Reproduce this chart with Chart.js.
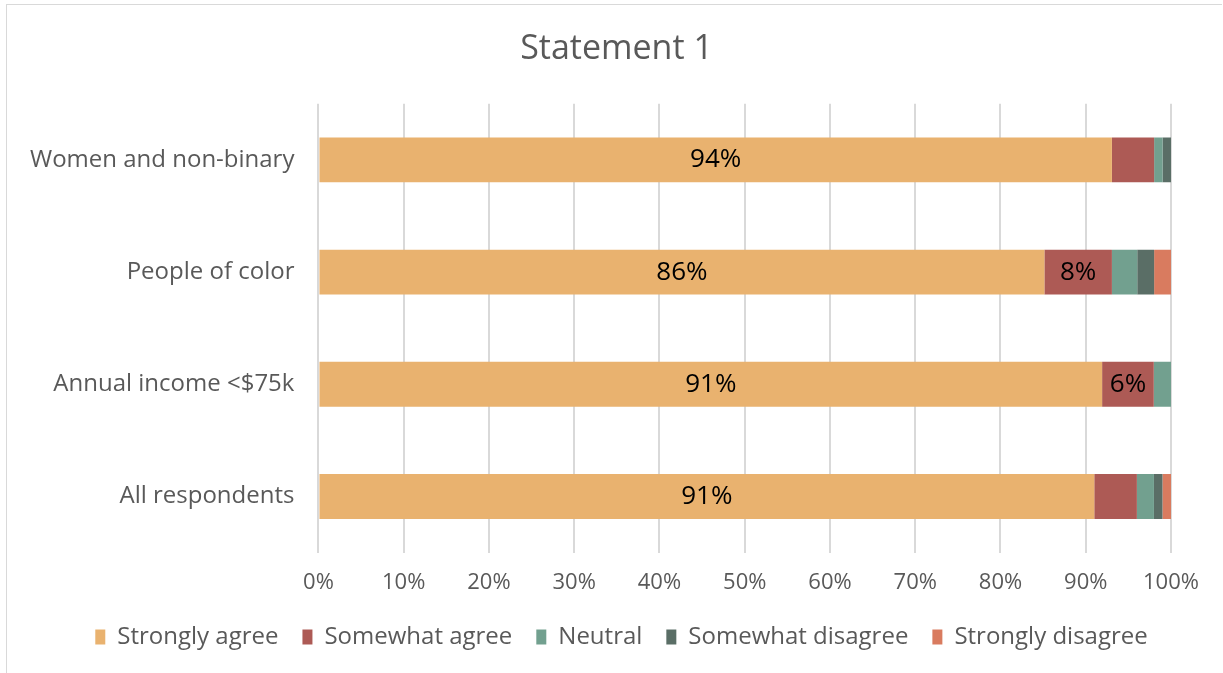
<!DOCTYPE html>
<html>
<head>
<meta charset="utf-8">
<script src="https://cdn.jsdelivr.net/npm/chart.js@4.4.0/dist/chart.umd.min.js"></script>
<style>
  html, body { margin: 0; padding: 0; background: #fff; }
  #wrap {
    position: absolute; left: 6px; top: 4px; width: 1216px; height: 669px;
    border: 1px solid #d9d9d9; border-right: none; border-bottom: none; box-sizing: border-box;
  }
  #box { position: absolute; left: 0; top: 0; width: 1223px; height: 673px; }
</style>
</head>
<body>
<div id="wrap"></div>
<div id="box"><canvas id="statementChart"></canvas></div>
<script>
// Raw answer percentages per group (rows don't always sum to 100)
const groups = ['Women and non-binary', 'People of color', 'Annual income <$75k', 'All respondents'];
const stronglyAgree = [94, 86, 91, 91];
const somewhatAgree = [5, 8, 6, 5];
const neutral = [1, 3, 2, 2];
const somewhatDisagree = [1, 2, 0, 1];
const stronglyDisagree = [0, 2, 0, 1];

const seriesNames = ['Strongly agree', 'Somewhat agree', 'Neutral', 'Somewhat disagree', 'Strongly disagree'];
const seriesColors = ['#E9B26F', '#AD5A55', '#72A08F', '#5A6E66', '#D97B5F'];
const allSeries = [stronglyAgree, somewhatAgree, neutral, somewhatDisagree, stronglyDisagree];

// 100% stacked: scale each row to its own total
const rowTotals = groups.map((g, i) => allSeries.reduce((s, arr) => s + arr[i], 0));

const datasets = allSeries.map((arr, k) => ({
  label: seriesNames[k],
  data: arr.map((v, i) => v / rowTotals[i] * 100),
  raw: arr,
  backgroundColor: seriesColors[k],
  borderWidth: 0,
  barPercentage: 0.4,
  categoryPercentage: 1.0
}));

// simple inline label plugin - only segments big enough get a label
const segmentLabels = {
  id: 'segmentLabels',
  afterDatasetsDraw(chart) {
    const ctx = chart.ctx;
    ctx.save();
    ctx.font = '26px "Open Sans", sans-serif';
    ctx.fillStyle = '#000';
    ctx.textAlign = 'center';
    ctx.textBaseline = 'middle';
    chart.data.datasets.forEach((ds, k) => {
      chart.getDatasetMeta(k).data.forEach((bar, i) => {
        const v = ds.raw[i];
        if (v < 6) return;
        const cx = (bar.x + bar.base) / 2;
        ctx.fillText(v + '%', cx, bar.y);
      });
    });
    ctx.restore();
  }
};

// title and legend sit centred on the whole frame, not on the padded area
const centerShift = {
  id: 'centerShift',
  afterLayout(chart) {
    chart.legend.left += 29;
    chart.legend.right += 29;
    chart.titleBlock.left += 24;
    chart.titleBlock.right += 24;
  }
};

const ctx = document.getElementById('statementChart').getContext('2d');
const chart = new Chart(ctx, {
  type: 'bar',
  data: { labels: groups, datasets: datasets },
  plugins: [segmentLabels, centerShift],
  options: {
    indexAxis: 'y',
    responsive: true,
    maintainAspectRatio: false,
    animation: false,
    layout: { padding: { left: 14, right: 52, top: 6, bottom: 14 } },
    plugins: {
      title: {
        display: true,
        text: 'Statement 1',
        color: '#595959',
        font: { family: '"Open Sans", sans-serif', size: 34, weight: 'normal' },
        padding: { top: 23, bottom: 34 }
      },
      legend: {
        position: 'bottom',
        labels: {
          color: '#595959',
          boxWidth: 10,
          boxHeight: 15,
          padding: 24,
          font: { family: '"Open Sans", sans-serif', size: 24 }
        }
      },
      tooltip: { enabled: false }
    },
    scales: {
      x: {
        stacked: true,
        min: 0,
        max: 100,
        // pull the axis box in so the plot reaches further down
        afterFit: function(axis) { axis.height -= 12; },
        ticks: {
          stepSize: 10,
          color: '#595959',
          padding: 17,
          font: { family: '"Open Sans", sans-serif', size: 22 },
          callback: function(value) { return value + '%'; }
        },
        grid: { color: '#d9d9d9', lineWidth: 2, drawTicks: false },
        border: { display: false }
      },
      y: {
        stacked: true,
        ticks: {
          color: '#595959',
          padding: 16,
          font: { family: '"Open Sans", sans-serif', size: 24 }
        },
        grid: { display: false },
        border: { display: false }
      }
    }
  }
});
</script>
</body>
</html>
